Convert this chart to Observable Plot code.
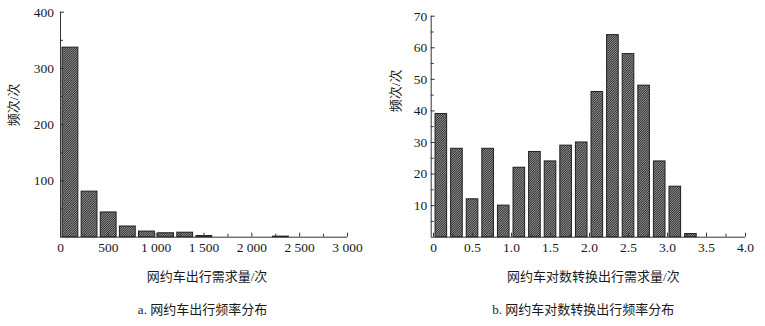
<!DOCTYPE html>
<html>
<head>
<meta charset="utf-8">
<script src="https://cdn.jsdelivr.net/npm/d3@7"></script>
<script src="https://cdn.jsdelivr.net/npm/@observablehq/plot@0.6"></script>
<style>
  html, body { margin: 0; padding: 0; background: #fff; }
  #wrap { position: relative; width: 765px; height: 326px; }
  #a { position: absolute; left: 0; top: 0; }
  #b { position: absolute; left: 380px; top: 0; }
  svg { overflow: visible; }
</style>
</head>
<body>
<div id="wrap"><div id="a"></div><div id="b"></div></div>
<script>
// ---- Data: panel a (raw demand) ----
const demandBinStarts = [0, 200, 400, 600, 800, 1000, 1200, 1400, 1600, 1800, 2000, 2200, 2400, 2600, 2800];
const demandBinWidth = 200;
const demandCounts = [337, 81, 44, 19, 10, 7, 8, 2, 0, 0, 0, 1, 0, 0, 0];
const demandXTicks = [0, 500, 1000, 1500, 2000, 2500, 3000];
const demandXTickLabels = ["0", "500", "1 000", "1 500", "2 000", "2 500", "3 000"];
const demandXMinorTicks = [250, 750, 1250, 1750, 2250, 2750];
const demandYTicks = [100, 200, 300, 400];
const demandYMinorTicks = [50, 150, 250, 350];

// ---- Data: panel b (log-transformed demand) ----
const logBinStarts = [0, 0.2, 0.4, 0.6, 0.8, 1.0, 1.2, 1.4, 1.6, 1.8, 2.0, 2.2, 2.4, 2.6, 2.8, 3.0, 3.2];
const logBinWidth = 0.2;
const logCounts = [39, 28, 12, 28, 10, 22, 27, 24, 29, 30, 46, 64, 58, 48, 24, 16, 1];
const logXTicks = [0, 0.5, 1.0, 1.5, 2.0, 2.5, 3.0, 3.5, 4.0];
const logXTickLabels = ["0", "0.5", "1.0", "1.5", "2.0", "2.5", "3.0", "3.5", "4.0"];
const logXMinorTicks = [0.25, 0.75, 1.25, 1.75, 2.25, 2.75, 3.25, 3.75];
const logYTicks = [10, 20, 30, 40, 50, 60, 70];
const logYMinorTicks = [5, 15, 25, 35, 45, 55, 65];

// ---- Text ----
const yLabel = "频次/次";
const xLabelA = "网约车出行需求量/次";
const xLabelB = "网约车对数转换出行需求量/次";
const captionA = "a. 网约车出行频率分布";
const captionB = "b. 网约车对数转换出行频率分布";

const FONT = "'Liberation Serif', 'Times New Roman', 'Noto Sans CJK SC', serif";
const INK = "#1a1a1a";

function addHatch(svg, id) {
  const defs = d3.select(svg).insert("defs", ":first-child");
  const p = defs.append("pattern")
    .attr("id", id)
    .attr("patternUnits", "userSpaceOnUse")
    .attr("width", 1.6).attr("height", 1.6)
    .attr("patternTransform", "rotate(45)");
  p.append("rect").attr("width", 1.6).attr("height", 1.6).attr("fill", "#a0a0a0");
  p.append("rect").attr("width", 0.85).attr("height", 1.6).attr("fill", "#2a2a2a");
}

function panel(cfg) {
  const bins = cfg.starts.map((s, i) => ({x1: s, x2: s + cfg.binWidth, n: cfg.counts[i]})).filter(d => d.n > 0);
  const plotW = cfg.width - cfg.marginLeft - cfg.marginRight;
  const plotH = cfg.height - cfg.marginTop - cfg.marginBottom;
  const svg = Plot.plot({
    width: cfg.width,
    height: cfg.height,
    marginLeft: cfg.marginLeft,
    marginRight: cfg.marginRight,
    marginTop: cfg.marginTop,
    marginBottom: cfg.marginBottom,
    style: {fontFamily: FONT, fontSize: "13px", color: INK, background: "transparent"},
    x: {domain: cfg.xDomain},
    y: {domain: cfg.yDomain},
    marks: [
      Plot.rectY(bins, {
        x1: "x1", x2: "x2", y: "n",
        fill: `url(#${cfg.id})`, stroke: "#1e1e1e", strokeWidth: 1,
        insetLeft: cfg.insetL, insetRight: cfg.insetR
      }),
      Plot.ruleX([cfg.xDomain[0]], {stroke: "#333", strokeWidth: 1}),
      Plot.ruleY([0], {stroke: "#333", strokeWidth: 1}),
      Plot.tickX(cfg.xTicks, {x: d => d, insetTop: plotH - 4, stroke: "#333"}),
      Plot.tickX(cfg.xMinor, {x: d => d, insetTop: plotH - 3, stroke: "#333"}),
      Plot.tickY(cfg.yTicks, {y: d => d, insetRight: plotW - 4, stroke: "#333"}),
      Plot.tickY(cfg.yMinor, {y: d => d, insetRight: plotW - 3, stroke: "#333"}),
      Plot.axisX(cfg.xTicks, {
        tickSize: 0, tickPadding: 5, fontSize: 13.5, label: null,
        tickFormat: (d, i) => cfg.xTickLabels[i], fill: INK
      }),
      Plot.axisY(cfg.yTicks, {
        tickSize: 0, tickPadding: cfg.yPad, fontSize: 13.5, label: null, fill: INK
      }),
      Plot.text([yLabel], {
        frameAnchor: "left", dx: cfg.yLabelDx, dy: cfg.yLabelDy, rotate: -90,
        fontSize: 13, fill: INK
      }),
      Plot.text([cfg.xLabel], {
        frameAnchor: "bottom", dx: cfg.xLabelDx, dy: 43.5, fontSize: 13, fill: INK
      }),
      Plot.text([cfg.caption], {
        frameAnchor: "bottom", dx: cfg.capDx, dy: 76.5, fontSize: 13, fill: INK
      })
    ]
  });
  addHatch(svg, cfg.id);
  return svg;
}

document.getElementById("a").appendChild(panel({
  id: "hatchA",
  width: 380, height: 326,
  marginLeft: 60, marginRight: 33, marginTop: 11.7, marginBottom: 89.3,
  xDomain: [0, 3000], yDomain: [0, 400],
  starts: demandBinStarts, binWidth: demandBinWidth, counts: demandCounts,
  insetL: 2, insetR: 1.3,
  xTicks: demandXTicks, xTickLabels: demandXTickLabels, xMinor: demandXMinorTicks,
  yTicks: demandYTicks, yMinor: demandYMinorTicks, yPad: 6.5,
  yLabelDx: -47, yLabelDy: 1.5,
  xLabel: xLabelA, xLabelDx: 3, caption: captionA, capDx: -1.5
}));

document.getElementById("b").appendChild(panel({
  id: "hatchB",
  width: 385, height: 326,
  marginLeft: 50.7, marginRight: 20, marginTop: 15.7, marginBottom: 89.3,
  xDomain: [-0.03, 4.0], yDomain: [0, 70],
  starts: logBinStarts, binWidth: logBinWidth, counts: logCounts,
  insetL: 2, insetR: 2,
  xTicks: logXTicks, xTickLabels: logXTickLabels, xMinor: logXMinorTicks,
  yTicks: logYTicks, yMinor: logYMinorTicks, yPad: 4,
  yLabelDx: -35.7, yLabelDy: -14.5,
  xLabel: xLabelB, xLabelDx: 5, caption: captionB, capDx: -5
}));
</script>
</body>
</html>
